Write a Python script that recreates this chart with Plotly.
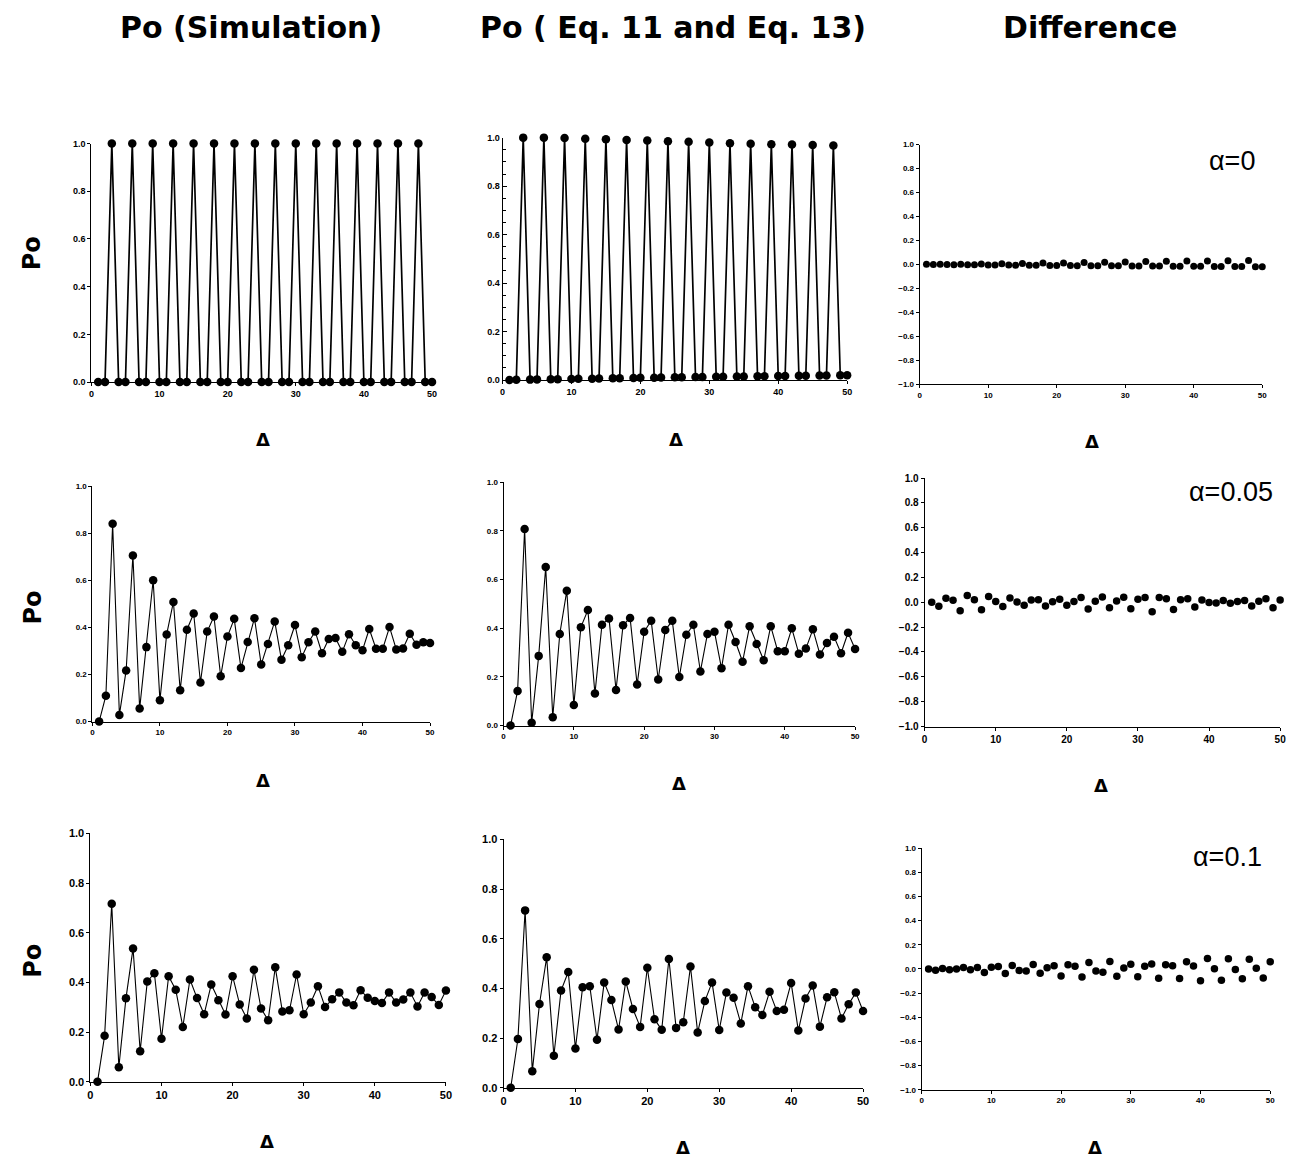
import plotly.graph_objects as go

# Lag index (Delta) shared by every panel
delta = list(range(1, 51))

# alpha = 0 : simulated open probability and the analytical curve (Eq. 11 / Eq. 13)
sim_a0 = [0, 0, 1, 0, 0, 1, 0, 0, 1, 0, 0, 1, 0, 0, 1, 0, 0, 1, 0, 0,
          1, 0, 0, 1, 0, 0, 1, 0, 0, 1, 0, 0, 1, 0, 0, 1, 0, 0, 1, 0,
          0, 1, 0, 0, 1, 0, 0, 1, 0, 0]
eq_a0 = [0.000, 0.001, 1.000, 0.002, 0.003, 1.000, 0.004, 0.004, 0.998, 0.005,
         0.006, 0.995, 0.006, 0.007, 0.993, 0.008, 0.008, 0.990, 0.009, 0.010,
         0.988, 0.010, 0.011, 0.985, 0.012, 0.012, 0.983, 0.013, 0.013, 0.980,
         0.014, 0.014, 0.977, 0.015, 0.015, 0.975, 0.016, 0.016, 0.973, 0.017,
         0.017, 0.972, 0.018, 0.018, 0.970, 0.019, 0.019, 0.968, 0.020, 0.020]

# alpha = 0.05
sim_a005 = [0.000, 0.110, 0.840, 0.028, 0.217, 0.705, 0.055, 0.316, 0.600, 0.090,
            0.370, 0.508, 0.133, 0.390, 0.459, 0.166, 0.382, 0.446, 0.192, 0.361,
            0.436, 0.227, 0.338, 0.439, 0.242, 0.329, 0.425, 0.262, 0.324, 0.410,
            0.273, 0.337, 0.382, 0.290, 0.350, 0.355, 0.296, 0.371, 0.324, 0.303,
            0.393, 0.309, 0.309, 0.401, 0.306, 0.310, 0.373, 0.326, 0.337, 0.333]
eq_a005 = [0.000, 0.142, 0.807, 0.011, 0.286, 0.651, 0.034, 0.376, 0.554, 0.084,
           0.404, 0.474, 0.131, 0.414, 0.440, 0.146, 0.412, 0.442, 0.168, 0.385,
           0.430, 0.189, 0.392, 0.430, 0.199, 0.373, 0.414, 0.222, 0.376, 0.385,
           0.235, 0.414, 0.343, 0.262, 0.408, 0.335, 0.268, 0.408, 0.305, 0.305,
           0.399, 0.295, 0.316, 0.395, 0.292, 0.339, 0.365, 0.297, 0.381, 0.314]

# alpha = 0.1
sim_a01 = [0.000, 0.185, 0.717, 0.059, 0.336, 0.537, 0.123, 0.404, 0.437, 0.173,
           0.425, 0.371, 0.221, 0.412, 0.337, 0.272, 0.392, 0.328, 0.271, 0.425,
           0.311, 0.255, 0.451, 0.295, 0.248, 0.461, 0.283, 0.288, 0.432, 0.272,
           0.319, 0.385, 0.301, 0.332, 0.360, 0.319, 0.308, 0.369, 0.338, 0.325,
           0.317, 0.360, 0.319, 0.331, 0.359, 0.303, 0.359, 0.341, 0.309, 0.368]
eq_a01 = [0.000, 0.196, 0.714, 0.066, 0.337, 0.525, 0.129, 0.391, 0.466, 0.158,
          0.405, 0.409, 0.193, 0.424, 0.353, 0.234, 0.428, 0.317, 0.245, 0.483,
          0.276, 0.233, 0.518, 0.241, 0.264, 0.488, 0.222, 0.349, 0.424, 0.232,
          0.383, 0.362, 0.259, 0.409, 0.324, 0.293, 0.386, 0.309, 0.314, 0.422,
          0.230, 0.359, 0.412, 0.246, 0.364, 0.384, 0.279, 0.336, 0.383, 0.309]

alpha_labels = ["\u03b1=0", "\u03b1=0.05", "\u03b1=0.1"]
column_titles = ["Po (Simulation)", "Po ( Eq. 11 and Eq. 13)", "Difference"]

rows = [(sim_a0, eq_a0), (sim_a005, eq_a005), (sim_a01, eq_a01)]

W, H = 1307, 1165

# Plot-area rectangles in pixels: (left, right, top, bottom)
boxes = [
    [(89, 432, 139, 380), (503, 850, 133, 378), (923, 1268, 140, 382)],
    [(90, 430, 485, 723), (504, 858, 481, 727), (928, 1286, 477, 728)],
    [(88, 446, 836, 1087), (504, 866, 842, 1093), (925, 1276, 851, 1095)],
]
tick_sizes = [[9, 9, 8], [8, 8, 10], [11, 11, 8]]
marker_sizes = [[8.5, 8.5, 7], [8.5, 8.5, 7.5], [8.5, 8.5, 7.5]]
line_widths = [1.7, 1.1, 1.1]
delta_pos = [[(262, 438), (678, 438), (1097, 440)],
             [(262, 783), (681, 786), (1106, 788)],
             [(266, 1147), (685, 1153), (1100, 1153)]]
alpha_pos = [(1263, 157), (1281, 491), (1270, 860)]
po_pos = [250, 608, 965]
title_x = [250, 675, 1095]

fig = go.Figure()
layout = dict(
    width=W, height=H, margin=dict(l=0, r=0, t=0, b=0),
    paper_bgcolor="white", plot_bgcolor="white", showlegend=False,
)
annotations = []

n = 0
for r, (sim, eq) in enumerate(rows):
    diff = [s - e for s, e in zip(sim, eq)]
    panels = [sim, eq, diff]
    for c, yvals in enumerate(panels):
        n += 1
        xa = "x" if n == 1 else f"x{n}"
        ya = "y" if n == 1 else f"y{n}"
        is_diff = c == 2
        fig.add_trace(go.Scatter(
            x=delta, y=yvals, xaxis=xa, yaxis=ya,
            mode="markers" if is_diff else "lines+markers",
            line=dict(color="black", width=line_widths[r]),
            marker=dict(color="black", size=marker_sizes[r][c]),
            cliponaxis=False, hoverinfo="skip",
        ))
        left, right, top, bottom = boxes[r][c]
        fs = tick_sizes[r][c]
        tickfont = dict(family="Liberation Sans, Arial, sans-serif", size=fs,
                        color="black", weight="bold")
        xkey = "xaxis" if n == 1 else f"xaxis{n}"
        ykey = "yaxis" if n == 1 else f"yaxis{n}"
        layout[xkey] = dict(
            domain=[left / W, right / W], anchor=ya, range=[0, 50],
            tickvals=[0, 10, 20, 30, 40, 50], ticks="outside", ticklen=3,
            tickcolor="black", showline=True, linecolor="black", linewidth=1,
            showgrid=False, zeroline=False, tickfont=tickfont, fixedrange=True,
        )
        yax = dict(
            domain=[1 - bottom / H, 1 - top / H], anchor=xa,
            ticks="outside", ticklen=3, tickcolor="black",
            showline=True, linecolor="black", linewidth=1,
            showgrid=False, zeroline=False, tickfont=tickfont, fixedrange=True,
        )
        if is_diff:
            yax.update(range=[-1, 1], tickvals=[-1, -0.8, -0.6, -0.4, -0.2, 0, 0.2, 0.4, 0.6, 0.8, 1],
                       tickformat=".1f")
        else:
            yax.update(range=[0, 1], tickvals=[0, 0.2, 0.4, 0.6, 0.8, 1], tickformat=".1f")
        if r == 0 and c == 1:
            yax.update(ticks="inside", ticklen=4,
                       minor=dict(dtick=0.05, ticks="inside", ticklen=3, tickcolor="black"))
        layout[ykey] = yax

        dx, dy = delta_pos[r][c]
        annotations.append(dict(
            text="\u0394", x=dx / W, y=1 - dy / H, xref="paper", yref="paper",
            showarrow=False, xanchor="center", yanchor="middle",
            font=dict(family="DejaVu Sans, sans-serif", size=18, color="black", weight="bold"),
        ))

    ax, ay = alpha_pos[r]
    annotations.append(dict(
        text=alpha_labels[r], x=ax / W, y=1 - ay / H, xref="paper", yref="paper",
        showarrow=False, xanchor="right", yanchor="middle",
        font=dict(family="Liberation Sans, Arial, sans-serif", size=27, color="black"),
    ))
    annotations.append(dict(
        text="Po", x=30 / W, y=1 - po_pos[r] / H, xref="paper", yref="paper",
        showarrow=False, xanchor="center", yanchor="middle", textangle=-90,
        font=dict(family="DejaVu Sans, sans-serif", size=24, color="black", weight="bold"),
    ))

for tx, title in zip(title_x, column_titles):
    annotations.append(dict(
        text=title, x=tx / W, y=1 - 22 / H, xref="paper", yref="paper",
        showarrow=False, xanchor="center", yanchor="middle",
        font=dict(family="DejaVu Sans, sans-serif", size=30, color="black", weight="bold"),
    ))

layout["annotations"] = annotations
fig.update_layout(**layout)
fig.write_html("out.html")
